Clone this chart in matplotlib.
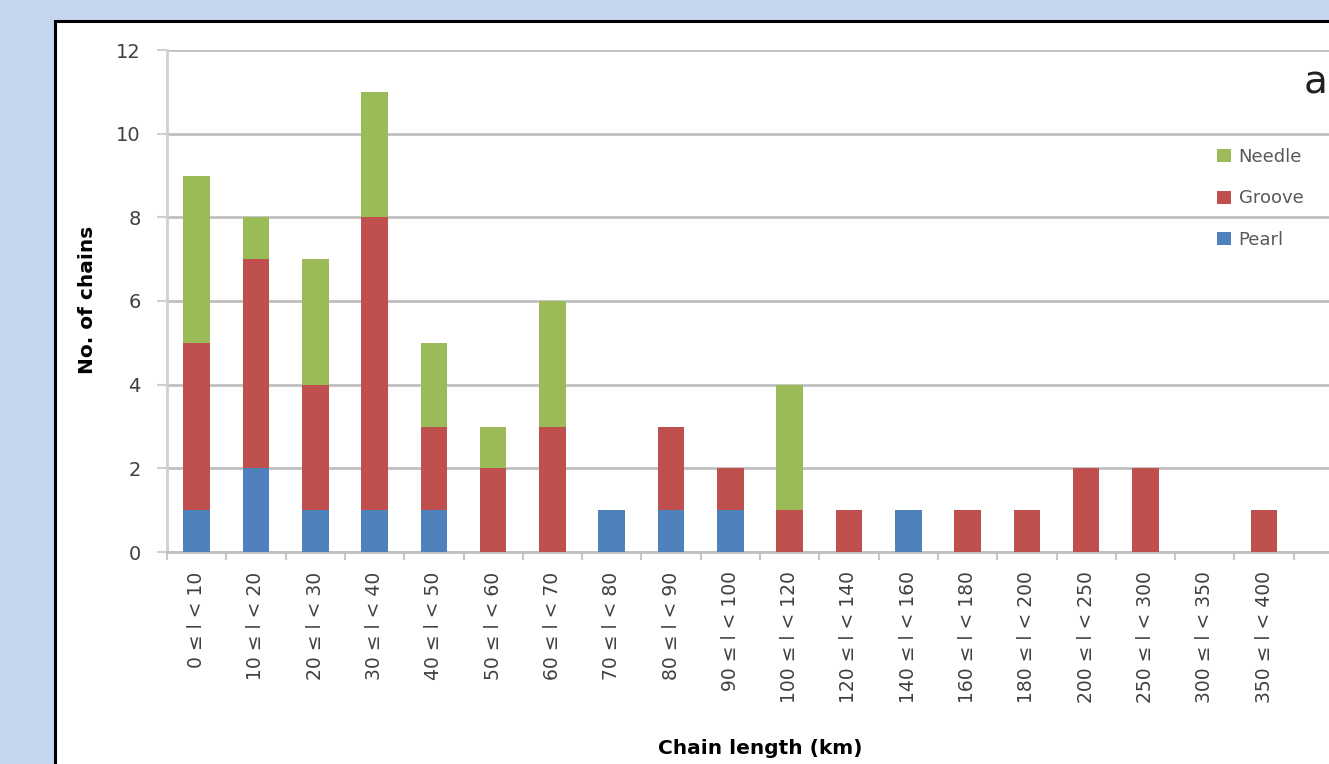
import matplotlib.pyplot as plt
from matplotlib.patches import Rectangle
import numpy as np

plt.rcParams['font.family'] = ['DejaVu Sans']

# chain length classes (km)
classes = ["0 ≤ l < 10", "10 ≤ l < 20", "20 ≤ l < 30", "30 ≤ l < 40", "40 ≤ l < 50",
           "50 ≤ l < 60", "60 ≤ l < 70", "70 ≤ l < 80", "80 ≤ l < 90", "90 ≤ l < 100",
           "100 ≤ l < 120", "120 ≤ l < 140", "140 ≤ l < 160", "160 ≤ l < 180",
           "180 ≤ l < 200", "200 ≤ l < 250", "250 ≤ l < 300", "300 ≤ l < 350",
           "350 ≤ l < 400"]
pearl = [1, 2, 1, 1, 1, 0, 0, 1, 1, 1, 0, 0, 1, 0, 0, 0, 0, 0, 0]
groove = [4, 5, 3, 7, 2, 2, 3, 0, 2, 1, 1, 1, 0, 1, 1, 2, 2, 0, 1]
needle = [4, 1, 3, 3, 2, 1, 3, 0, 0, 0, 3, 0, 0, 0, 0, 0, 0, 0, 0]

W, H = 1329, 764
fig = plt.figure(figsize=(W / 100, H / 100), dpi=100)
fig.patch.set_facecolor('#c6d5ee')

# white chart panel with black frame, behind the axes
fig.patches.append(Rectangle((55 / W, -0.1), 1.2, (H - 21) / H + 0.1, transform=fig.transFigure,
                             facecolor='white', edgecolor='black', linewidth=2.2, zorder=-5))

ax = fig.add_axes([167 / W, (H - 552) / H, (W - 167) / W, 502 / H])
ax.patch.set_alpha(0)
x = np.arange(len(classes))
w = 0.45
ax.bar(x, pearl, w, color='#4f81bd', label='Pearl', zorder=3)
ax.bar(x, groove, w, bottom=pearl, color='#c0504d', label='Groove', zorder=3)
bottom2 = np.array(pearl) + np.array(groove)
ax.bar(x, needle, w, bottom=bottom2, color='#9bbb59', label='Needle', zorder=3)

ax.set_yticks(range(0, 13, 2))
ax.yaxis.grid(True, color='#c0c0c0', linewidth=2, zorder=0)
ax.set_xticks(x)
ax.set_xticklabels(classes, rotation=90, fontsize=13.5, color='#404040')
ax.set_xticks(np.arange(-0.5, len(classes) + 0.6, 1), minor=True)
ax.set_xlim(-0.5, -0.5 + (W - 167) / 59.3)
ax.set_ylim(0, 12)
ax.tick_params(axis='x', which='major', length=0, pad=14)
ax.tick_params(axis='x', which='minor', length=6, width=1.5, color='#c8c8c8')
ax.tick_params(axis='y', length=7, width=1.5, color='#d0d0d0', labelsize=14,
               labelcolor='#404040', pad=12)

for s in ['top', 'right']:
    ax.spines[s].set_visible(False)
ax.spines['left'].set_color('#d0d0d0')
ax.spines['left'].set_linewidth(2)
ax.spines['bottom'].set_color('#c0c0c0')
ax.spines['bottom'].set_linewidth(2)

ax.set_ylabel('No. of chains', fontsize=14.5, fontweight='bold')
ax.yaxis.set_label_coords((88 - 167) / (W - 167), 1 - (300 - 50) / 502)
ax.set_xlabel('Chain length (km)', fontsize=14.5, fontweight='bold')
ax.xaxis.set_label_coords((760 - 167) / (W - 167), -(748 - 552) / 502)
ax.xaxis.label.set_verticalalignment('center')
ax.yaxis.label.set_verticalalignment('center')

handles, labels = ax.get_legend_handles_labels()
leg = ax.legend(handles[::-1], labels[::-1], loc='upper left',
                bbox_to_anchor=((1217 - 167) / (W - 167), 1 - (148 - 50) / 502),
                frameon=False, fontsize=13, labelspacing=1.3, handlelength=0.75,
                handleheight=0.75, handletextpad=0.45, borderpad=0, borderaxespad=0)
for t in leg.get_texts():
    t.set_color('#595959')

fig.text(1304 / W, 1 - 82 / H, 'a', fontsize=28, va='center', ha='left', color='#202020')

fig.savefig('out.png', dpi=100, facecolor=fig.get_facecolor())
